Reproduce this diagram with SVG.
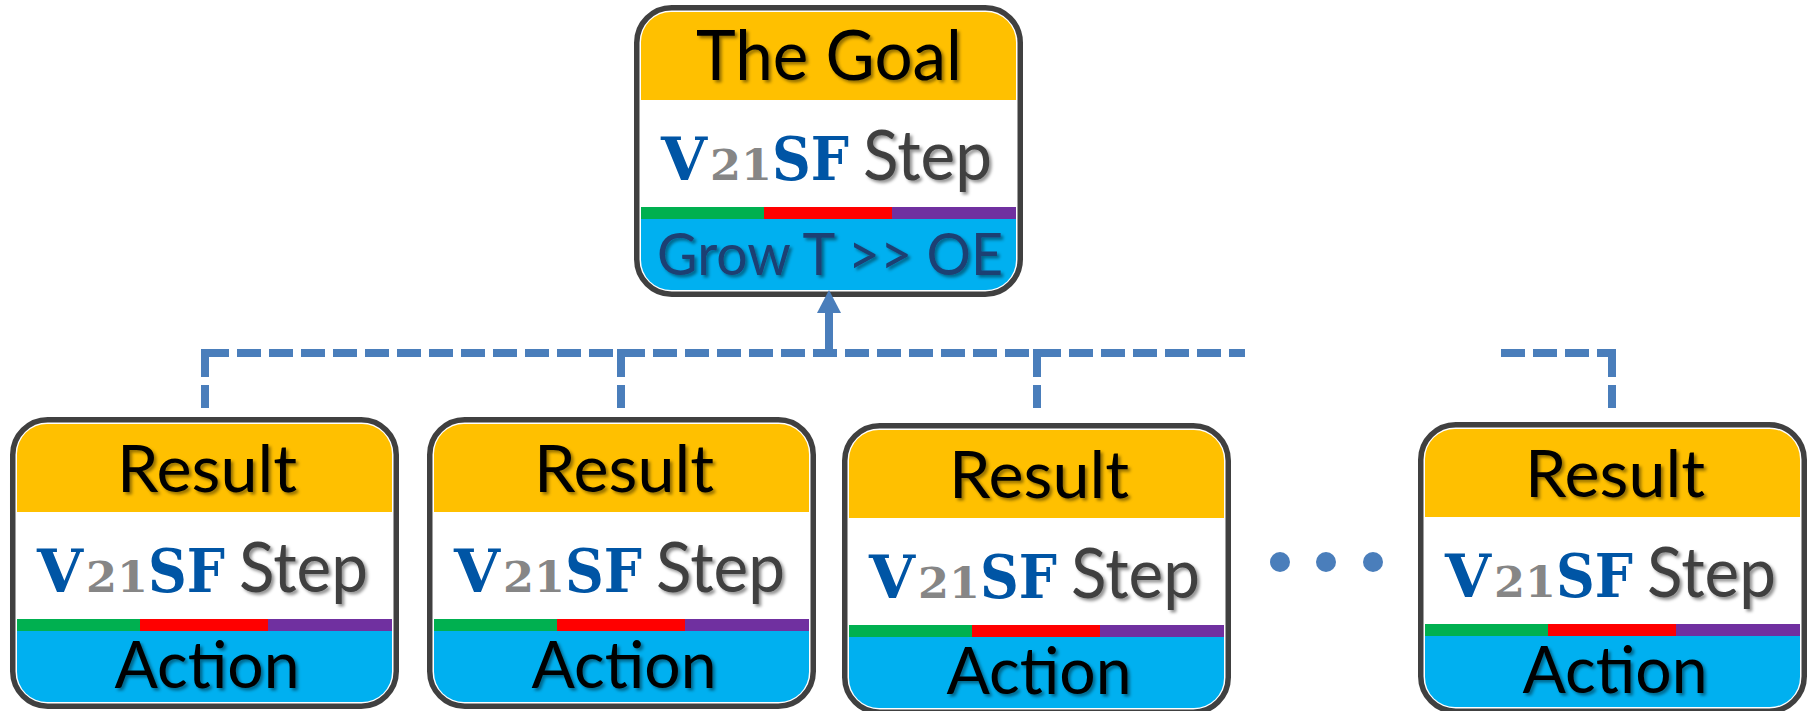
<svg xmlns="http://www.w3.org/2000/svg" xmlns:xlink="http://www.w3.org/1999/xlink" width="1812" height="711" viewBox="0 0 1812 711">
  <style>
    .lbl { font-family: Lato, "Liberation Sans", sans-serif; text-anchor: middle; fill: #000; filter: url(#txtShadow); }
    .step { font-family: Lato, "Liberation Sans", sans-serif; fill: #404040; font-size: 69px; filter: url(#txtShadow); }
    .brand { font-family: "DejaVu Serif", "Liberation Serif", serif; font-weight: bold; fill: #0055A5; font-size: 59px; }
    .num { fill: #868686; font-size: 42px; }
    .grow { fill: #1F3F73; }
    .conn { fill: none; stroke: #4A7EBB; stroke-width: 8; }
    .dash { stroke-dasharray: 24 8; }
    .stub { stroke-dasharray: 28 8 23 100; }
  </style>
  <defs>
    <filter id="txtShadow" x="-10%" y="-20%" width="130%" height="150%">
      <feDropShadow dx="2.5" dy="2.5" stdDeviation="1.6" flood-color="#000" flood-opacity="0.42"/>
    </filter>
    <clipPath id="cardClip">
      <rect x="7" y="7" width="375" height="278" rx="30"/>
    </clipPath>
    <!-- card body: rounded frame with result / step / colour bar / action bands -->
    <g id="card">
      <rect x="2.75" y="2.75" width="383.5" height="286.5" rx="35" fill="#fff"/>
      <g clip-path="url(#cardClip)">
        <rect x="7" y="7" width="375" height="88" fill="#FFC000"/>
        <rect x="7" y="95" width="375" height="107" fill="#fff"/>
        <rect x="7" y="202" width="123" height="12" fill="#00B050"/>
        <rect x="130" y="202" width="128" height="12" fill="#FF0000"/>
        <rect x="258" y="202" width="124" height="12" fill="#7030A0"/>
        <rect x="7" y="214" width="375" height="71" fill="#00B0F0"/>
      </g>
      <rect x="2.75" y="2.75" width="383.5" height="286.5" rx="35" fill="none" stroke="#404040" stroke-width="5.5"/>
    </g>
    <!-- V21SF Step line -->
    <g id="brandLine">
      <text class="brand" x="27" y="175" textLength="46" lengthAdjust="spacingAndGlyphs">V</text>
      <text class="brand num" x="76" y="175" textLength="62" lengthAdjust="spacingAndGlyphs">21</text>
      <text class="brand" x="138" y="175" textLength="77" lengthAdjust="spacingAndGlyphs">SF</text>
      <text class="step" x="229" y="175" textLength="129" lengthAdjust="spacingAndGlyphs">Step</text>
    </g>
  </defs>

  <rect width="1812" height="711" fill="#fff"/>

  <g id="goal" transform="translate(634,5)">
    <use href="#card"/>
    <text class="lbl" x="195" y="75" font-size="70" textLength="266" lengthAdjust="spacingAndGlyphs">The Goal</text>
    <use href="#brandLine"/>
    <text class="lbl grow" x="196" y="270" font-size="59" textLength="346" lengthAdjust="spacingAndGlyphs">Grow T &gt;&gt; OE</text>
  </g>

  <g id="result1" transform="translate(10,417)">
    <use href="#card"/>
    <text class="lbl" x="197" y="75" font-size="65" textLength="180" lengthAdjust="spacingAndGlyphs">Result</text>
    <use href="#brandLine"/>
    <text class="lbl" x="197" y="271" font-size="66" textLength="185" lengthAdjust="spacingAndGlyphs">Action</text>
  </g>

  <g id="result2" transform="translate(427,417)">
    <use href="#card"/>
    <text class="lbl" x="197" y="75" font-size="65" textLength="180" lengthAdjust="spacingAndGlyphs">Result</text>
    <use href="#brandLine"/>
    <text class="lbl" x="197" y="271" font-size="66" textLength="185" lengthAdjust="spacingAndGlyphs">Action</text>
  </g>

  <g id="result3" transform="translate(842,423)">
    <use href="#card"/>
    <text class="lbl" x="197" y="75" font-size="65" textLength="180" lengthAdjust="spacingAndGlyphs">Result</text>
    <use href="#brandLine"/>
    <text class="lbl" x="197" y="271" font-size="66" textLength="185" lengthAdjust="spacingAndGlyphs">Action</text>
  </g>

  <g id="result4" transform="translate(1418,422)">
    <use href="#card"/>
    <text class="lbl" x="197" y="75" font-size="65" textLength="180" lengthAdjust="spacingAndGlyphs">Result</text>
    <use href="#brandLine"/>
    <text class="lbl" x="197" y="271" font-size="66" textLength="185" lengthAdjust="spacingAndGlyphs">Action</text>
  </g>

  <!-- ellipsis between the third and last result -->
  <g id="ellipsis" fill="#4A7EBB">
    <circle cx="1280" cy="562" r="10"/>
    <circle cx="1326" cy="562" r="10"/>
    <circle cx="1373" cy="562" r="10"/>
  </g>

  <g id="connectors">
    <path class="conn dash" d="M205,353 H1245"/>
    <path class="conn dash" d="M1501,353 H1616"/>
    <path class="conn stub" d="M205,349 V408"/>
    <path class="conn stub" d="M621,349 V408"/>
    <path class="conn stub" d="M1037,349 V408"/>
    <path class="conn stub" d="M1612,349 V408"/>
    <path class="conn" d="M829,353 V311"/>
    <polygon points="829,290 817,313 841,313" fill="#4A7EBB"/>
  </g>
</svg>
